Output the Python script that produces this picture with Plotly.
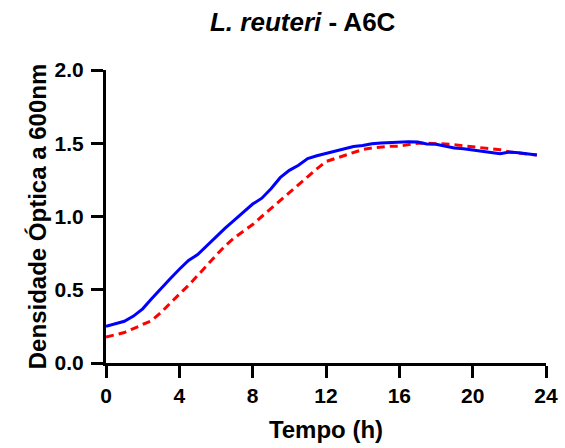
import plotly.graph_objects as go

tempo_h = [0.0, 0.5, 1.0, 1.5, 2.0, 2.5, 3.0, 3.5, 4.0, 4.5, 5.0, 5.5, 6.0, 6.5, 7.0, 7.5,
           8.0, 8.5, 9.0, 9.5, 10.0, 10.5, 11.0, 11.5, 12.0, 12.5, 13.0, 13.5, 14.0, 14.5,
           15.0, 15.5, 16.0, 16.5, 17.0, 17.5, 18.0, 18.5, 19.0, 19.5, 20.0, 20.5, 21.0,
           21.5, 22.0, 22.5, 23.0, 23.5]

od_blue = [0.25, 0.265, 0.285, 0.32, 0.37, 0.44, 0.51, 0.575, 0.64, 0.70, 0.74, 0.80,
           0.865, 0.92, 0.975, 1.03, 1.085, 1.125, 1.19, 1.265, 1.315, 1.35, 1.395, 1.415,
           1.43, 1.445, 1.46, 1.478, 1.485, 1.497, 1.502, 1.505, 1.507, 1.51, 1.508, 1.495,
           1.493, 1.478, 1.468, 1.462, 1.455, 1.445, 1.437, 1.428, 1.44, 1.435, 1.427, 1.42]

od_red = [0.177, 0.19, 0.208, 0.235, 0.26, 0.29, 0.345, 0.41, 0.47, 0.53, 0.595, 0.665,
          0.735, 0.80, 0.855, 0.90, 0.945, 1.0, 1.055, 1.11, 1.16, 1.215, 1.27, 1.325,
          1.375, 1.395, 1.42, 1.44, 1.457, 1.468, 1.476, 1.479, 1.48, 1.49, 1.50, 1.50,
          1.50, 1.495, 1.49, 1.483, 1.477, 1.472, 1.466, 1.455, 1.44, 1.435, 1.425, 1.42]

x_ticks = [0, 4, 8, 12, 16, 20, 24]
y_ticks = [0.0, 0.5, 1.0, 1.5, 2.0]

FONT = "Liberation Sans, Arial, sans-serif"

fig = go.Figure()
fig.add_trace(go.Scatter(x=tempo_h, y=od_red, mode="lines",
                         line=dict(color="#FF0000", width=3, dash="8px,5px"),
                         showlegend=False))
fig.add_trace(go.Scatter(x=tempo_h, y=od_blue, mode="lines",
                         line=dict(color="#0000FF", width=3),
                         showlegend=False))

fig.update_layout(
    width=565, height=448,
    margin=dict(l=106, r=19, t=70, b=85, autoexpand=False),
    paper_bgcolor="white", plot_bgcolor="white",
    font=dict(family=FONT, color="black"),
    title=dict(text="<b><i>L. reuteri</i> - A6C</b>", x=0.447, xref="paper",
               xanchor="center", y=0.952, yref="container", yanchor="middle",
               font=dict(size=26, family=FONT, color="black")),
)
fig.update_xaxes(range=[0, 24], tickvals=x_ticks, ticktext=[f"<b>{v}</b>" for v in x_ticks],
                 showgrid=False, zeroline=False, showline=True, linecolor="black",
                 linewidth=3, ticks="outside", ticklen=12, tickwidth=3,
                 tickcolor="black", tickfont=dict(size=21, family=FONT),
                 ticklabelstandoff=0, automargin=False,
                 title=dict(text="<b>Tempo (h)</b>", font=dict(size=24, family=FONT), standoff=15))
fig.update_yaxes(range=[0, 2.0], tickvals=y_ticks, ticktext=[f"<b>{v:.1f}</b>" for v in y_ticks],
                 showgrid=False, zeroline=False, showline=True, linecolor="black",
                 linewidth=3, ticks="outside", ticklen=12, tickwidth=3,
                 tickcolor="black", tickfont=dict(size=21, family=FONT),
                 ticklabelstandoff=3, automargin=False,
                 title=dict(text="<b>Densidade Óptica a 600nm</b>", font=dict(size=24, family=FONT), standoff=2))

fig.write_html("out.html", config={"displayModeBar": False},
               post_script="document.body.style.margin='0';document.body.style.padding='0';")
